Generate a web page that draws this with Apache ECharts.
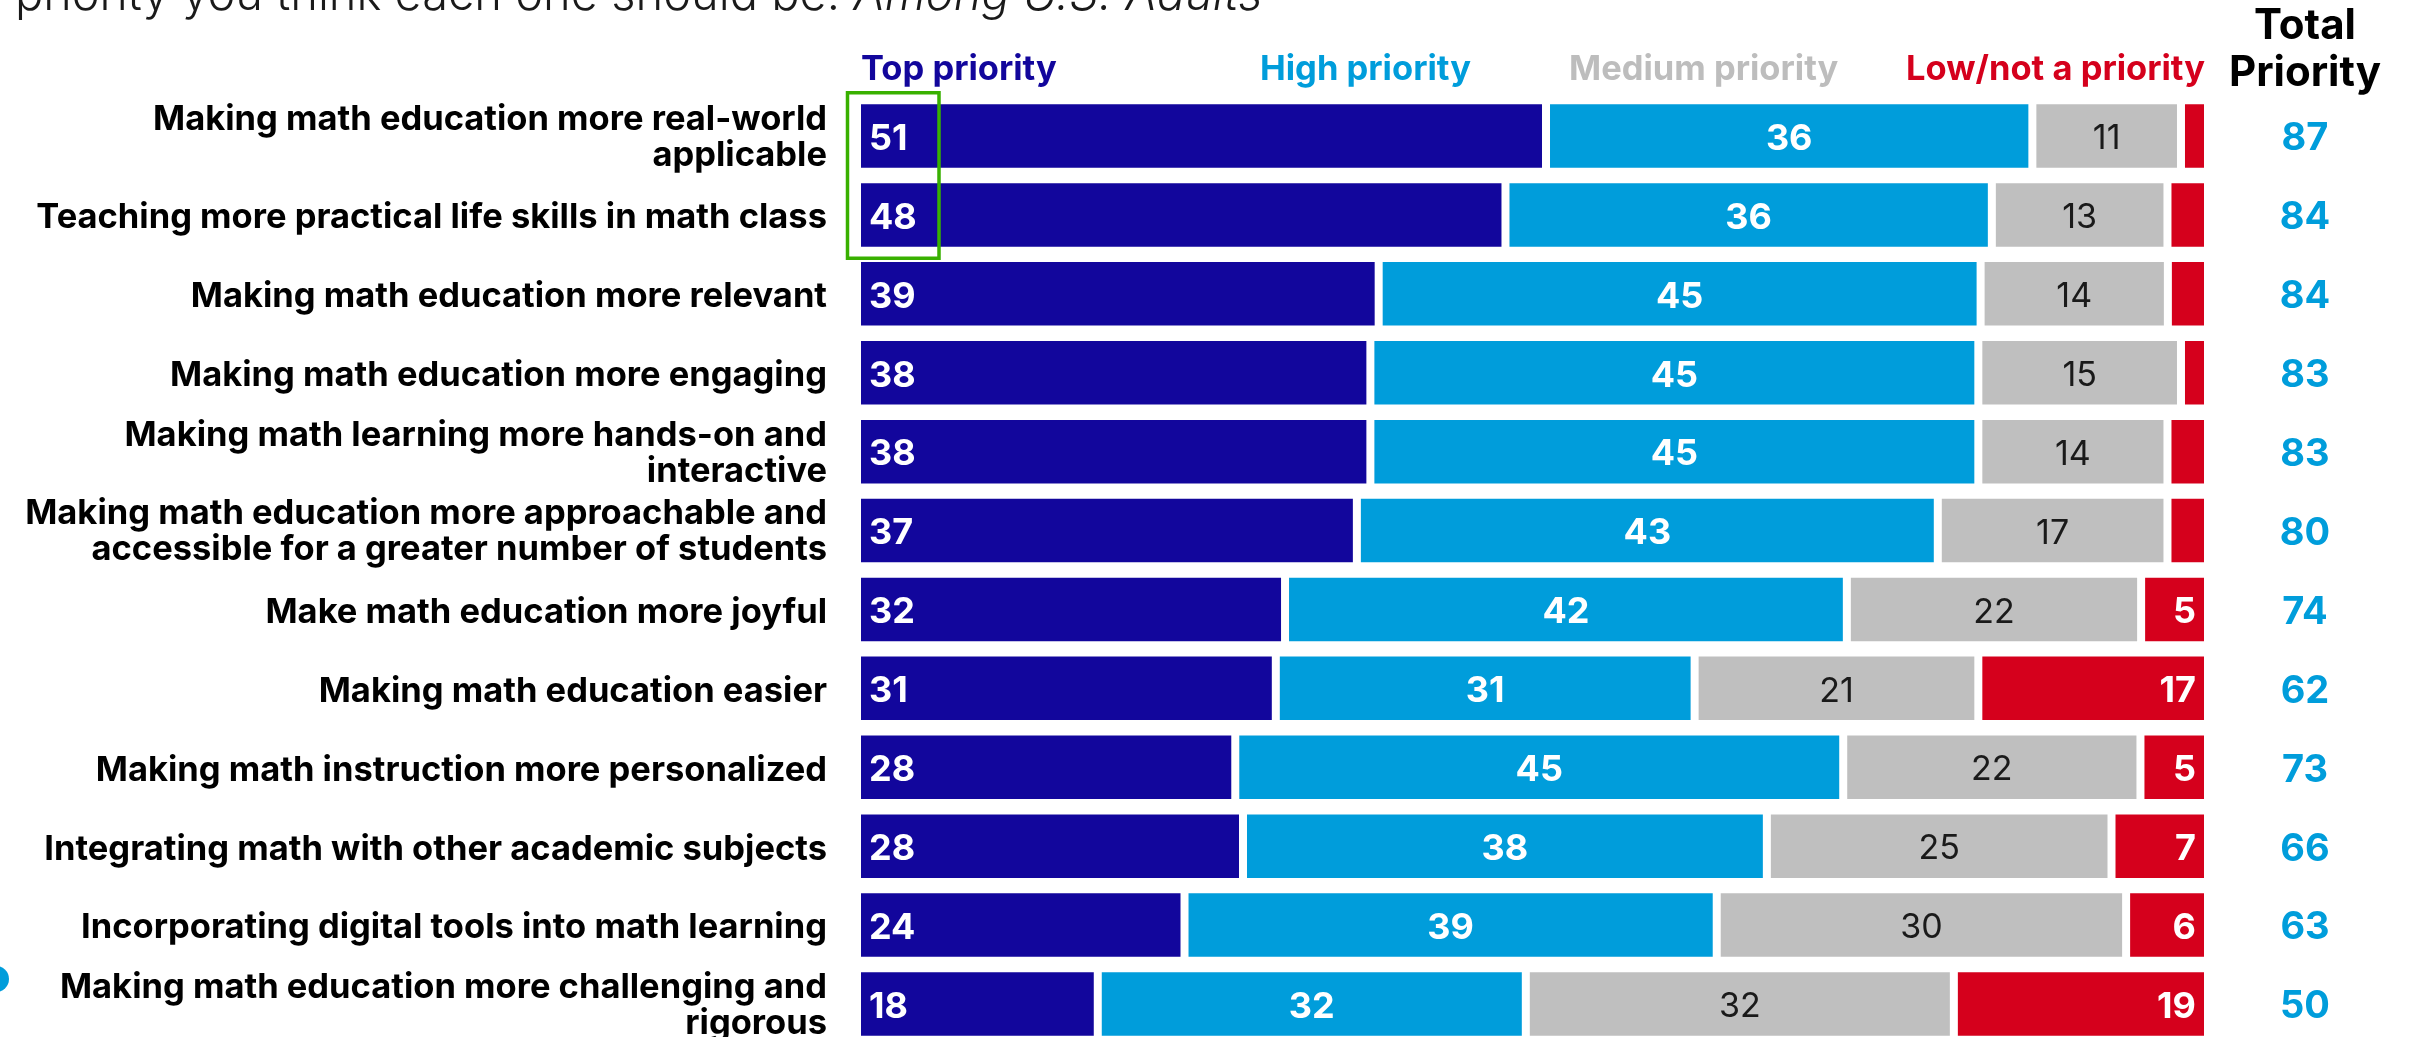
<!DOCTYPE html>
<html>
<head>
<meta charset="utf-8">
<title>Math education priorities</title>
<script src="https://cdn.jsdelivr.net/npm/echarts@6/dist/echarts.min.js"></script>
<style>
  html, body { margin: 0; padding: 0; background: #ffffff; }
  #chart { width: 2410px; height: 1037px; }
</style>
</head>
<body>
<div id="chart"></div>
<script>
// Survey items, top to bottom
const categories = [
  'Making math education more real-world\napplicable',
  'Teaching more practical life skills in math class',
  'Making math education more relevant',
  'Making math education more engaging',
  'Making math learning more hands-on and\ninteractive',
  'Making math education more approachable and\naccessible for a greater number of students',
  'Make math education more joyful',
  'Making math education easier',
  'Making math instruction more personalized',
  'Integrating math with other academic subjects',
  'Incorporating digital tools into math learning',
  'Making math education more challenging and\nrigorous'
];

// Percent of adults choosing each priority level
const topPriority    = [51, 48, 39, 38, 38, 37, 32, 31, 28, 28, 24, 18];
const highPriority   = [36, 36, 45, 45, 45, 43, 42, 31, 45, 38, 39, 32];
const mediumPriority = [11, 13, 14, 15, 14, 17, 22, 21, 22, 25, 30, 32];
const lowPriority    = [2, 3, 3, 2, 3, 3, 5, 17, 5, 7, 6, 19];
const totalPriority  = [87, 84, 84, 83, 83, 80, 74, 62, 73, 66, 63, 50];

const seriesNames = ['Top priority', 'High priority', 'Medium priority', 'Low/not a priority'];
const titleMain = 'priority you think each one should be. ';
const titleItalic = 'Among U.S. Adults';
const totalHeader = 'Total\nPriority';

const COLORS = ['#12069c', '#009ddb', '#bfbfbf', '#d5001c'];
const FONT = 'Inter, "Noto Sans", sans-serif';

// Each row is drawn as a 100% bar: shares of the row's own sum
const rawSeries = [topPriority, highPriority, mediumPriority, lowPriority];
const rowSums = categories.map((_, i) => rawSeries.reduce((s, arr) => s + arr[i], 0));
const shares = arr => arr.map((v, i) => v / rowSums[i] * 100);

function labelFor(raw, minShown) {
  return p => (raw[p.dataIndex] >= minShown ? String(raw[p.dataIndex]) : '');
}

// Axis label text nudged a little below the row centre: the first line gets a top pad
function nudged(text) {
  return String(text).split('\n').map((line, i) => '{' + (i === 0 ? 'f' : 'n') + '|' + line + '}').join('\n');
}
function nudgedRich(style) {
  return {
    f: Object.assign({ padding: [6, 0, 0, 0] }, style),
    n: Object.assign({}, style)
  };
}

const whiteLabel = { color: '#ffffff', fontFamily: FONT, fontWeight: 700, fontSize: 36, offset: [0, 3] };

const labelConfigs = [
  Object.assign({ show: true, position: 'insideLeft', distance: 12, formatter: labelFor(topPriority, 0) }, whiteLabel),
  Object.assign({ show: true, position: 'inside', formatter: labelFor(highPriority, 0) }, whiteLabel),
  { show: true, position: 'inside', offset: [0, 3], color: '#1a1a1a', fontFamily: FONT, fontWeight: 400, fontSize: 34, formatter: labelFor(mediumPriority, 0) },
  Object.assign({ show: true, position: 'insideRight', distance: 12, formatter: labelFor(lowPriority, 5) }, whiteLabel)
];

// White borders (drawn inside each segment) leave the gaps between segments
const series = rawSeries.map((raw, k) => ({
  name: seriesNames[k],
  type: 'bar',
  stack: 'all',
  barWidth: 71.5,
  data: shares(raw),
  itemStyle: { color: COLORS[k], borderColor: '#ffffff', borderWidth: 4 },
  label: labelConfigs[k],
  emphasis: { disabled: true }
}));

// Column headers above the bars
const legendX = [861, 1260, 1569, 2205];
const legendGraphics = seriesNames.map((name, k) => ({
  type: 'text',
  x: legendX[k],
  y: 70,
  style: {
    text: name,
    fill: k === 2 ? '#bdbdbd' : COLORS[k],
    font: '700 34.5px ' + FONT,
    verticalAlign: 'middle',
    align: k === 3 ? 'right' : 'left'
  }
}));

const categoryTextStyle = { color: '#000000', fontFamily: FONT, fontWeight: 700, fontSize: 34.5, lineHeight: 39, align: 'right' };
const totalTextStyle = { color: '#009ddb', fontFamily: FONT, fontWeight: 700, fontSize: 38, lineHeight: 40, align: 'center' };

const chart = echarts.init(document.getElementById('chart'), null, { renderer: 'canvas' });

chart.setOption({
  animation: false,
  backgroundColor: '#ffffff',
  grid: {
    left: 857,
    right: 202,
    top: 96.6,
    height: 946.8,
    containLabel: false,
    outerBoundsMode: 'none'
  },
  xAxis: {
    type: 'value',
    min: 0,
    max: 100,
    show: false
  },
  yAxis: [
    {
      type: 'category',
      inverse: true,
      data: categories,
      axisLine: { show: false },
      axisTick: { show: false },
      splitLine: { show: false },
      axisLabel: Object.assign({
        margin: 30,
        formatter: nudged,
        rich: nudgedRich(categoryTextStyle)
      }, categoryTextStyle)
    },
    {
      type: 'category',
      inverse: true,
      position: 'right',
      data: totalPriority.map(String),
      axisLine: { show: false },
      axisTick: { show: false },
      splitLine: { show: false },
      axisLabel: Object.assign({
        margin: 97,
        formatter: nudged,
        rich: nudgedRich(totalTextStyle)
      }, totalTextStyle)
    }
  ],
  series: series,
  graphic: [
    {
      type: 'text',
      x: 15,
      y: -4,
      style: {
        text: '{a|' + titleMain + '}{b|' + titleItalic + '}',
        verticalAlign: 'middle',
        rich: {
          a: { fontFamily: FONT, fontWeight: 300, fontSize: 47, fill: '#1a1a1a' },
          b: { fontFamily: FONT, fontWeight: 300, fontStyle: 'italic', fontSize: 47, fill: '#1a1a1a' }
        }
      }
    },
    {
      type: 'text',
      x: 2305,
      y: 50,
      style: {
        text: totalHeader,
        fill: '#000000',
        font: '700 42px ' + FONT,
        lineHeight: 47,
        align: 'center',
        verticalAlign: 'middle'
      }
    },
    ...legendGraphics,
    {
      type: 'rect',
      z: 100,
      shape: { x: 847.5, y: 92.7, width: 91.5, height: 165.6 },
      style: { fill: 'none', stroke: '#38b000', lineWidth: 3.5 }
    },
    {
      type: 'circle',
      shape: { cx: -4, cy: 979, r: 13 },
      style: { fill: '#009ddb' }
    }
  ]
});
</script>
</body>
</html>
